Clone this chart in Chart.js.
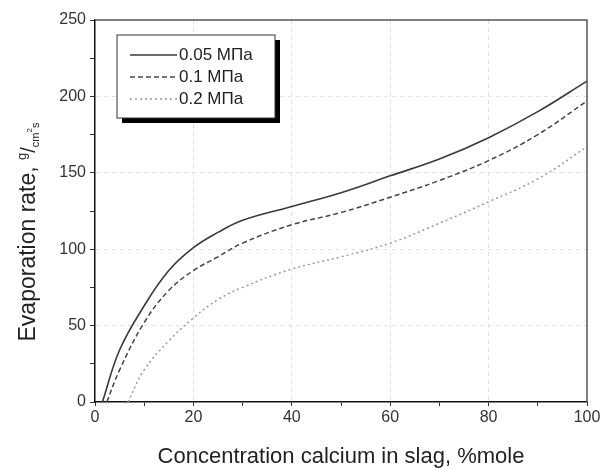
<!DOCTYPE html>
<html>
<head>
<meta charset="utf-8">
<script src="https://cdn.jsdelivr.net/npm/chart.js@4.4.1/dist/chart.umd.min.js"></script>
<style>
  body { margin: 0; background: #fff; }
  #wrap { position: relative; width: 606px; height: 470px; }
</style>
</head>
<body>
<div id="wrap"><canvas id="evapChart"></canvas></div>
<script>
// Data
const seriesLabels = ["0.05 МПа", "0.1 МПа", "0.2 МПа"];

const x005 = [1.5, 5, 10, 15, 20, 25, 30, 40, 50, 60, 70, 80, 90, 100];
const y005 = [0, 34, 63, 86, 101, 111, 119, 128, 137, 148, 159, 173, 190, 210];

const x01 = [2.4, 5, 10, 15, 20, 25, 30, 40, 50, 60, 70, 80, 90, 100];
const y01 = [0, 21, 52, 73, 86, 95, 104, 116, 124, 134, 145, 158, 175, 197];

const x02 = [6.7, 10, 15, 20, 25, 30, 40, 50, 60, 70, 80, 90, 100];
const y02 = [0, 21, 40, 55, 67, 75, 87, 95, 104, 117, 131, 146, 167];

const xTicks = [0, 20, 40, 60, 80, 100];
const yTicks = [0, 50, 100, 150, 200, 250];

function toPoints(xs, ys) {
    return xs.map((x, i) => ({ x: x, y: ys[i] }));
}

const FONT = "'Liberation Sans', Arial, sans-serif";

// frame around plot area + boxed legend with shadow + y title with fraction
const extras = {
    id: "extras",
    afterDraw(chart) {
        const ctx = chart.ctx;
        const a = chart.chartArea;
        ctx.save();

        // top / right frame
        ctx.strokeStyle = "#555";
        ctx.lineWidth = 1.5;
        ctx.beginPath();
        ctx.moveTo(a.left, a.top);
        ctx.lineTo(a.right, a.top);
        ctx.lineTo(a.right, a.bottom);
        ctx.stroke();

        // legend box
        const bx = 117, by = 35, bw = 158, bh = 83;
        ctx.fillStyle = "#000";
        ctx.fillRect(bx + 5, by + 5, bw, bh);
        ctx.fillStyle = "#fff";
        ctx.fillRect(bx, by, bw, bh);
        ctx.strokeStyle = "#333";
        ctx.lineWidth = 1;
        ctx.strokeRect(bx, by, bw, bh);

        ctx.font = "17px " + FONT;
        ctx.textBaseline = "middle";
        chart.data.datasets.forEach((ds, i) => {
            const ly = by + 20 + i * 22;
            ctx.strokeStyle = ds.borderColor;
            ctx.lineWidth = ds.borderWidth;
            ctx.setLineDash(ds.borderDash || []);
            ctx.beginPath();
            ctx.moveTo(bx + 13, ly);
            ctx.lineTo(bx + 60, ly);
            ctx.stroke();
            ctx.setLineDash([]);
            ctx.fillStyle = "#222";
            ctx.fillText(ds.label, bx + 62, ly);
        });

        // y title: "Evaporation rate, g/cm²s"
        const parts = [
            { t: "Evaporation rate, ", s: 23, dy: 0 },
            { t: "g", s: 13, dy: -9 },
            { t: "/", s: 20, dy: 0 },
            { t: "cm", s: 11, dy: 4 },
            { t: "2", s: 8, dy: -3 },
            { t: "s", s: 11, dy: 4 }
        ];
        let total = 0;
        parts.forEach(p => {
            ctx.font = p.s + "px " + FONT;
            p.w = ctx.measureText(p.t).width;
            total += p.w;
        });
        ctx.translate(35, 232);
        ctx.rotate(-Math.PI / 2);
        ctx.textBaseline = "alphabetic";
        ctx.fillStyle = "#222";
        let cx = -total / 2;
        parts.forEach(p => {
            ctx.font = p.s + "px " + FONT;
            ctx.fillText(p.t, cx, p.dy);
            cx += p.w;
        });
        ctx.restore();
    }
};

const isInnerMajor = (list, v, max) => list.includes(v) && v > 0 && v < max;

new Chart(document.getElementById("evapChart"), {
    type: "line",
    data: {
        datasets: [
            {
                label: seriesLabels[0],
                data: toPoints(x005, y005),
                borderColor: "#3a3a3a",
                borderWidth: 1.6
            },
            {
                label: seriesLabels[1],
                data: toPoints(x01, y01),
                borderColor: "#444",
                borderWidth: 1.5,
                borderDash: [5, 3]
            },
            {
                label: seriesLabels[2],
                data: toPoints(x02, y02),
                borderColor: "#999",
                borderWidth: 1.5,
                borderDash: [2, 3]
            }
        ]
    },
    options: {
        responsive: true,
        maintainAspectRatio: false,
        animation: false,
        layout: { padding: { top: 20, right: 19, left: 0, bottom: 0 } },
        elements: {
            point: { radius: 0 },
            line: { tension: 0.4, fill: false }
        },
        plugins: {
            legend: { display: false },
            tooltip: { enabled: false }
        },
        scales: {
            x: {
                type: "linear",
                min: 0,
                max: 100,
                afterFit: s => { s.height = 68; },
                ticks: {
                    stepSize: 10,
                    autoSkip: false,
                    maxRotation: 0,
                    padding: 2,
                    color: "#333",
                    font: { family: FONT, size: 16 },
                    callback: v => xTicks.includes(v) ? v : ""
                },
                grid: {
                    color: c => isInnerMajor(xTicks, c.tick ? c.tick.value : -1, 100) ? "#e0e0e0" : "rgba(0,0,0,0)",
                    lineWidth: 1,
                    tickColor: "#333",
                    tickLength: 4,
                    tickBorderDash: []
                },
                border: { color: "#111", width: 1.5, dash: [4, 4] },
                title: {
                    display: true,
                    text: "Concentration calcium in slag, %mole",
                    color: "#222",
                    font: { family: FONT, size: 22 },
                    padding: { top: 8, bottom: 0 }
                }
            },
            y: {
                min: 0,
                max: 250,
                afterFit: s => { s.width = 95; },
                ticks: {
                    stepSize: 25,
                    autoSkip: false,
                    padding: 4,
                    color: "#333",
                    font: { family: FONT, size: 16 },
                    callback: v => yTicks.includes(v) ? v : ""
                },
                grid: {
                    color: c => isInnerMajor(yTicks, c.tick ? c.tick.value : -1, 250) ? "#e0e0e0" : "rgba(0,0,0,0)",
                    lineWidth: 1,
                    tickColor: "#333",
                    tickLength: 5,
                    tickBorderDash: []
                },
                border: { color: "#111", width: 1.5, dash: [4, 4] }
            }
        }
    },
    plugins: [extras]
});
</script>
</body>
</html>
